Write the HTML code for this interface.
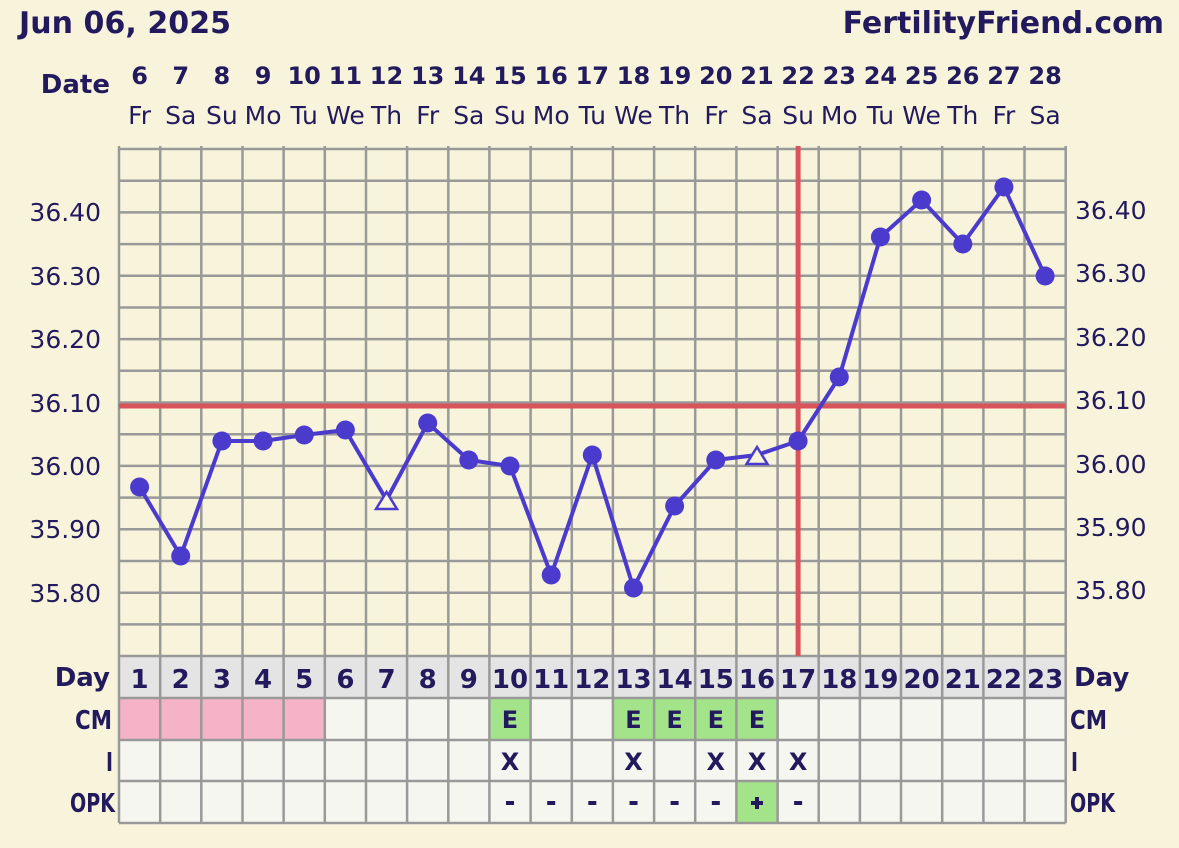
<!DOCTYPE html><html><head><style>body{margin:0;background:#f8f4dc}svg{display:block}text{font-family:"DejaVu Sans","Liberation Sans",sans-serif;fill:#231a5e}</style></head><body>
<svg width="1179" height="848" viewBox="0 0 1179 848" xmlns="http://www.w3.org/2000/svg">
<rect width="1179" height="848" fill="#f8f4dc"/>
<text x="19" y="33" font-size="30" font-weight="bold" textLength="212">Jun 06, 2025</text>
<text x="1164" y="33" font-size="30" font-weight="bold" text-anchor="end">FertilityFriend.com</text>
<text x="110" y="93" font-size="26" font-weight="bold" text-anchor="end">Date</text>
<g font-size="24" font-weight="bold" text-anchor="middle">
<text x="139.6" y="84">6</text><text x="180.7" y="84">7</text><text x="221.9" y="84">8</text><text x="263.1" y="84">9</text><text x="304.2" y="84">10</text><text x="345.4" y="84">11</text><text x="386.5" y="84">12</text><text x="427.7" y="84">13</text><text x="468.8" y="84">14</text><text x="510" y="84">15</text><text x="551.2" y="84">16</text><text x="592.3" y="84">17</text><text x="633.5" y="84">18</text><text x="674.6" y="84">19</text><text x="715.8" y="84">20</text><text x="757" y="84">21</text><text x="798.1" y="84">22</text><text x="839.3" y="84">23</text><text x="880.4" y="84">24</text><text x="921.6" y="84">25</text><text x="962.8" y="84">26</text><text x="1003.9" y="84">27</text><text x="1045.1" y="84">28</text>
</g>
<g font-size="25" text-anchor="middle">
<text x="139.6" y="124">Fr</text><text x="180.7" y="124">Sa</text><text x="221.9" y="124">Su</text><text x="263.1" y="124">Mo</text><text x="304.2" y="124">Tu</text><text x="345.4" y="124">We</text><text x="386.5" y="124">Th</text><text x="427.7" y="124">Fr</text><text x="468.8" y="124">Sa</text><text x="510" y="124">Su</text><text x="551.2" y="124">Mo</text><text x="592.3" y="124">Tu</text><text x="633.5" y="124">We</text><text x="674.6" y="124">Th</text><text x="715.8" y="124">Fr</text><text x="757" y="124">Sa</text><text x="798.1" y="124">Su</text><text x="839.3" y="124">Mo</text><text x="880.4" y="124">Tu</text><text x="921.6" y="124">We</text><text x="962.8" y="124">Th</text><text x="1003.9" y="124">Fr</text><text x="1045.1" y="124">Sa</text>
</g>
<g font-size="25">
<text x="101" y="221" text-anchor="end">36.40</text><text x="101" y="285" text-anchor="end">36.30</text><text x="101" y="348" text-anchor="end">36.20</text><text x="101" y="412" text-anchor="end">36.10</text><text x="101" y="475" text-anchor="end">36.00</text><text x="101" y="538" text-anchor="end">35.90</text><text x="101" y="602" text-anchor="end">35.80</text>
<text x="1075" y="219">36.40</text><text x="1075" y="282">36.30</text><text x="1075" y="346">36.20</text><text x="1075" y="409">36.10</text><text x="1075" y="473">36.00</text><text x="1075" y="536">35.90</text><text x="1075" y="599">35.80</text>
</g>
<rect x="119" y="656" width="946.7" height="42" fill="#e4e4e4"/>
<rect x="119" y="698" width="946.7" height="125" fill="#f6f6f0"/>
<rect x="119" y="698" width="205.8" height="42" fill="#f4b3c6"/>
<rect x="489.4" y="698" width="41.2" height="42" fill="#a3e48a"/>
<rect x="612.9" y="698" width="164.7" height="42" fill="#a3e48a"/>
<rect x="736.4" y="781" width="41.2" height="42" fill="#a3e48a"/>
<g stroke="#999" stroke-width="2.5">
<line x1="119" y1="149" x2="1065.7" y2="149"/><line x1="119" y1="180.7" x2="1065.7" y2="180.7"/><line x1="119" y1="212.4" x2="1065.7" y2="212.4"/><line x1="119" y1="244.1" x2="1065.7" y2="244.1"/><line x1="119" y1="275.8" x2="1065.7" y2="275.8"/><line x1="119" y1="307.5" x2="1065.7" y2="307.5"/><line x1="119" y1="339.1" x2="1065.7" y2="339.1"/><line x1="119" y1="370.8" x2="1065.7" y2="370.8"/><line x1="119" y1="402.5" x2="1065.7" y2="402.5"/><line x1="119" y1="434.2" x2="1065.7" y2="434.2"/><line x1="119" y1="465.9" x2="1065.7" y2="465.9"/><line x1="119" y1="497.6" x2="1065.7" y2="497.6"/><line x1="119" y1="529.3" x2="1065.7" y2="529.3"/><line x1="119" y1="561" x2="1065.7" y2="561"/><line x1="119" y1="592.7" x2="1065.7" y2="592.7"/><line x1="119" y1="624.4" x2="1065.7" y2="624.4"/><line x1="119" y1="656" x2="1065.7" y2="656"/>
<line x1="119" y1="698" x2="1065.7" y2="698"/><line x1="119" y1="740" x2="1065.7" y2="740"/><line x1="119" y1="781" x2="1065.7" y2="781"/><line x1="119" y1="823" x2="1065.7" y2="823"/>
<line x1="119" y1="146" x2="119" y2="823"/><line x1="160.2" y1="146" x2="160.2" y2="823"/><line x1="201.3" y1="146" x2="201.3" y2="823"/><line x1="242.5" y1="146" x2="242.5" y2="823"/><line x1="283.6" y1="146" x2="283.6" y2="823"/><line x1="324.8" y1="146" x2="324.8" y2="823"/><line x1="366" y1="146" x2="366" y2="823"/><line x1="407.1" y1="146" x2="407.1" y2="823"/><line x1="448.3" y1="146" x2="448.3" y2="823"/><line x1="489.4" y1="146" x2="489.4" y2="823"/><line x1="530.6" y1="146" x2="530.6" y2="823"/><line x1="571.8" y1="146" x2="571.8" y2="823"/><line x1="612.9" y1="146" x2="612.9" y2="823"/><line x1="654.1" y1="146" x2="654.1" y2="823"/><line x1="695.2" y1="146" x2="695.2" y2="823"/><line x1="736.4" y1="146" x2="736.4" y2="823"/><line x1="777.6" y1="146" x2="777.6" y2="823"/><line x1="818.7" y1="146" x2="818.7" y2="823"/><line x1="859.9" y1="146" x2="859.9" y2="823"/><line x1="901" y1="146" x2="901" y2="823"/><line x1="942.2" y1="146" x2="942.2" y2="823"/><line x1="983.4" y1="146" x2="983.4" y2="823"/><line x1="1024.5" y1="146" x2="1024.5" y2="823"/><line x1="1065.7" y1="146" x2="1065.7" y2="823"/>
</g>
<line x1="119" y1="406" x2="1065.7" y2="406" stroke="#d9545a" stroke-width="5"/>
<line x1="798.1" y1="146" x2="798.1" y2="656" stroke="#d9545a" stroke-width="5"/>
<polyline fill="none" stroke="#4b3bcc" stroke-width="4" stroke-linejoin="round" points="139.6,487 180.7,556 221.9,441 263.1,441 304.2,435 345.4,430 386.5,500 427.7,423 468.8,460 510,466 551.2,575 592.3,455 633.5,588 674.6,506 715.8,460 757,455 798.1,441 839.3,377 880.4,237 921.6,200 962.8,244 1003.9,187 1045.1,276"/>
<g fill="#4b3bcc">
<circle cx="139.6" cy="487" r="9.5"/><circle cx="180.7" cy="556" r="9.5"/><circle cx="221.9" cy="441" r="9.5"/><circle cx="263.1" cy="441" r="9.5"/><circle cx="304.2" cy="435" r="9.5"/><circle cx="345.4" cy="430" r="9.5"/><circle cx="427.7" cy="423" r="9.5"/><circle cx="468.8" cy="460" r="9.5"/><circle cx="510" cy="466" r="9.5"/><circle cx="551.2" cy="575" r="9.5"/><circle cx="592.3" cy="455" r="9.5"/><circle cx="633.5" cy="588" r="9.5"/><circle cx="674.6" cy="506" r="9.5"/><circle cx="715.8" cy="460" r="9.5"/><circle cx="798.1" cy="441" r="9.5"/><circle cx="839.3" cy="377" r="9.5"/><circle cx="880.4" cy="237" r="9.5"/><circle cx="921.6" cy="200" r="9.5"/><circle cx="962.8" cy="244" r="9.5"/><circle cx="1003.9" cy="187" r="9.5"/><circle cx="1045.1" cy="276" r="9.5"/>
</g>
<g fill="#f8f4dc" stroke="#4b3bcc" stroke-width="2.5">
<polygon points="386.5,492 376,509 397,509"/><polygon points="757,447 746.5,464 767.5,464"/>
</g>
<g font-size="26" font-weight="bold">
<text x="110" y="686" text-anchor="end">Day</text><text x="1074" y="686">Day</text>
</g>
<g font-size="26" font-weight="bold">
<text x="75" y="729" textLength="37" lengthAdjust="spacingAndGlyphs">CM</text><text x="1070" y="729" textLength="37" lengthAdjust="spacingAndGlyphs">CM</text>
<text x="106" y="771" textLength="7" lengthAdjust="spacingAndGlyphs">I</text><text x="1071" y="771" textLength="7" lengthAdjust="spacingAndGlyphs">I</text>
<text x="70" y="812" textLength="45" lengthAdjust="spacingAndGlyphs">OPK</text><text x="1070" y="812" textLength="45" lengthAdjust="spacingAndGlyphs">OPK</text>
</g>
<g font-size="26" font-weight="bold" text-anchor="middle">
<text x="139.6" y="688">1</text><text x="180.7" y="688">2</text><text x="221.9" y="688">3</text><text x="263.1" y="688">4</text><text x="304.2" y="688">5</text><text x="345.4" y="688">6</text><text x="386.5" y="688">7</text><text x="427.7" y="688">8</text><text x="468.8" y="688">9</text><text x="510" y="688">10</text><text x="551.2" y="688">11</text><text x="592.3" y="688">12</text><text x="633.5" y="688">13</text><text x="674.6" y="688">14</text><text x="715.8" y="688">15</text><text x="757" y="688">16</text><text x="798.1" y="688">17</text><text x="839.3" y="688">18</text><text x="880.4" y="688">19</text><text x="921.6" y="688">20</text><text x="962.8" y="688">21</text><text x="1003.9" y="688">22</text><text x="1045.1" y="688">23</text>
</g>
<g font-size="24" font-weight="bold" text-anchor="middle">
<text x="510" y="728">E</text><text x="633.5" y="728">E</text><text x="674.6" y="728">E</text><text x="715.8" y="728">E</text><text x="757" y="728">E</text>
<text x="510" y="770">X</text><text x="633.5" y="770">X</text><text x="715.8" y="770">X</text><text x="757" y="770">X</text><text x="798.1" y="770">X</text>
</g>
<g fill="#231a5e">
<rect x="506" y="801" width="8" height="4"/><rect x="547.2" y="801" width="8" height="4"/><rect x="588.3" y="801" width="8" height="4"/><rect x="629.5" y="801" width="8" height="4"/><rect x="670.6" y="801" width="8" height="4"/><rect x="711.8" y="801" width="8" height="4"/><rect x="794.1" y="801" width="8" height="4"/>
<rect x="751" y="801" width="12" height="4"/><rect x="755" y="797" width="4" height="12"/>
</g>
</svg>
</body></html>
